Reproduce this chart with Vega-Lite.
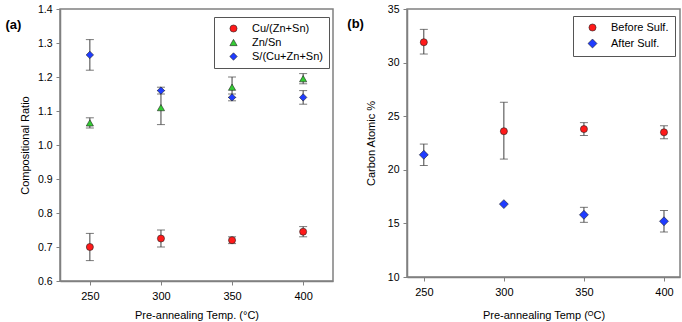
{
  "$schema": "https://vega.github.io/schema/vega-lite/v6.json",
  "padding": {"left": 4, "top": 3, "right": 2, "bottom": 0},
  "background": "white",
  "columns": 2,
  "align": "none",
  "spacing": 12,
  "config": {
    "font": "Liberation Sans",
    "view": {"stroke": "#808080", "strokeWidth": 1.5},
    "axis": {
      "grid": false,
      "domainColor": "#808080",
      "domainWidth": 1.5,
      "tickColor": "#808080",
      "tickSize": 4,
      "labelColor": "black",
      "labelFontSize": 10.5,
      "titleFontSize": 11,
      "titleFontWeight": "normal",
      "titleColor": "black",
      "labelPadding": 4,
      "labelOverlap": false
    },
    "axisX": {"labelFontSize": 11, "labelPadding": 5},
    "legend": {
      "strokeColor": "#555",
      "fillColor": "white",
      "padding": 6,
      "labelFontSize": 11,
      "labelColor": "black",
      "rowPadding": 2,
      "symbolSize": 36,
      "symbolStrokeWidth": 0.6,
      "symbolOffset": 8,
      "labelOffset": 13,
      "title": null
    }
  },
  "datasets": {
    "ratio": [
      {"temp": 250, "series": "Cu/(Zn+Sn)", "val": 0.700, "lo": 0.660, "hi": 0.740},
      {"temp": 300, "series": "Cu/(Zn+Sn)", "val": 0.725, "lo": 0.700, "hi": 0.750},
      {"temp": 350, "series": "Cu/(Zn+Sn)", "val": 0.720, "lo": 0.710, "hi": 0.730},
      {"temp": 400, "series": "Cu/(Zn+Sn)", "val": 0.745, "lo": 0.730, "hi": 0.760},
      {"temp": 250, "series": "Zn/Sn", "val": 1.065, "lo": 1.050, "hi": 1.080},
      {"temp": 300, "series": "Zn/Sn", "val": 1.110, "lo": 1.060, "hi": 1.160},
      {"temp": 350, "series": "Zn/Sn", "val": 1.170, "lo": 1.140, "hi": 1.200},
      {"temp": 400, "series": "Zn/Sn", "val": 1.195, "lo": 1.180, "hi": 1.210},
      {"temp": 250, "series": "S/(Cu+Zn+Sn)", "val": 1.265, "lo": 1.220, "hi": 1.310},
      {"temp": 300, "series": "S/(Cu+Zn+Sn)", "val": 1.160, "lo": 1.150, "hi": 1.170},
      {"temp": 350, "series": "S/(Cu+Zn+Sn)", "val": 1.140, "lo": 1.130, "hi": 1.150},
      {"temp": 400, "series": "S/(Cu+Zn+Sn)", "val": 1.140, "lo": 1.120, "hi": 1.160}
    ],
    "carbon": [
      {"temp": 250, "series": "Before Sulf.", "val": 31.9, "lo": 30.8, "hi": 33.1},
      {"temp": 300, "series": "Before Sulf.", "val": 23.6, "lo": 21.0, "hi": 26.3},
      {"temp": 350, "series": "Before Sulf.", "val": 23.8, "lo": 23.2, "hi": 24.4},
      {"temp": 400, "series": "Before Sulf.", "val": 23.5, "lo": 22.9, "hi": 24.1},
      {"temp": 250, "series": "After Sulf.", "val": 21.4, "lo": 20.4, "hi": 22.4},
      {"temp": 300, "series": "After Sulf.", "val": 16.8, "lo": null, "hi": null},
      {"temp": 350, "series": "After Sulf.", "val": 15.8, "lo": 15.1, "hi": 16.5},
      {"temp": 400, "series": "After Sulf.", "val": 15.2, "lo": 14.2, "hi": 16.2}
    ]
  },
  "concat": [
    {
      "width": 273,
      "height": 272,
      "title": {"text": "(a)", "fontSize": 13, "fontWeight": "bold", "color": "black", "orient": "top", "anchor": "start", "frame": "bounds", "offset": -28, "dx": -14},
      "data": {"name": "ratio"},
      "encoding": {
        "x": {"field": "temp", "type": "quantitative", "scale": {"domain": [229, 421], "nice": false, "zero": false},
              "axis": {"values": [250, 300, 350, 400], "title": "Pre-annealing Temp. (°C)", "titlePadding": 8}}
      },
      "layer": [
        {
          "transform": [{"filter": "datum.lo != null"}],
          "mark": {"type": "rule", "color": "#404040", "strokeWidth": 1},
          "encoding": {
            "y": {"field": "lo", "type": "quantitative", "scale": {"domain": [0.6, 1.4], "nice": false, "zero": false},
                  "axis": {"values": [0.6, 0.7, 0.8, 0.9, 1.0, 1.1, 1.2, 1.3, 1.4], "format": ".1f", "title": "Compositional Ratio", "titlePadding": 7}},
            "y2": {"field": "hi"}
          }
        },
        {
          "transform": [{"filter": "datum.lo != null"}],
          "mark": {"type": "tick", "orient": "horizontal", "color": "#404040", "size": 8, "thickness": 1},
          "encoding": {"y": {"field": "lo", "type": "quantitative",
                  "axis": {"values": [0.6, 0.7, 0.8, 0.9, 1.0, 1.1, 1.2, 1.3, 1.4], "format": ".1f", "title": "Compositional Ratio", "titlePadding": 7}}}
        },
        {
          "transform": [{"filter": "datum.hi != null"}],
          "mark": {"type": "tick", "orient": "horizontal", "color": "#404040", "size": 8, "thickness": 1},
          "encoding": {"y": {"field": "hi", "type": "quantitative",
                  "axis": {"values": [0.6, 0.7, 0.8, 0.9, 1.0, 1.1, 1.2, 1.3, 1.4], "format": ".1f", "title": "Compositional Ratio", "titlePadding": 7}}}
        },
        {
          "mark": {"type": "point", "filled": true, "stroke": "#222", "strokeWidth": 0.6, "opacity": 1},
          "encoding": {
            "y": {"field": "val", "type": "quantitative", "scale": {"domain": [0.6, 1.4], "nice": false, "zero": false},
                  "axis": {"values": [0.6, 0.7, 0.8, 0.9, 1.0, 1.1, 1.2, 1.3, 1.4], "format": ".1f", "title": "Compositional Ratio", "titlePadding": 7}},
            "color": {"field": "series", "type": "nominal",
                      "scale": {"domain": ["Cu/(Zn+Sn)", "Zn/Sn", "S/(Cu+Zn+Sn)"], "range": ["#ff1a1a", "#33cc33", "#1f3cff"]},
                      "legend": {"orient": "none", "legendX": 154, "legendY": 8}},
            "shape": {"field": "series", "type": "nominal",
                      "scale": {"domain": ["Cu/(Zn+Sn)", "Zn/Sn", "S/(Cu+Zn+Sn)"], "range": ["circle", "triangle-up", "diamond"]}},
            "size": {"field": "series", "type": "nominal", "legend": null,
                     "scale": {"domain": ["Cu/(Zn+Sn)", "Zn/Sn", "S/(Cu+Zn+Sn)"], "range": [50, 55, 80]}}
          }
        }
      ]
    },
    {
      "width": 273,
      "height": 268,
      "title": {"text": "(b)", "fontSize": 13, "fontWeight": "bold", "color": "black", "orient": "top", "anchor": "start", "frame": "bounds", "dx": -18, "offset": -27},
      "data": {"name": "carbon"},
      "encoding": {
        "x": {"field": "temp", "type": "quantitative", "scale": {"domain": [239.5, 410], "nice": false, "zero": false},
              "axis": {"values": [250, 300, 350, 400], "title": "Pre-annealing Temp (ᴼC)", "titlePadding": 12}}
      },
      "layer": [
        {
          "transform": [{"filter": "datum.lo != null"}],
          "mark": {"type": "rule", "color": "#404040", "strokeWidth": 1},
          "encoding": {
            "y": {"field": "lo", "type": "quantitative", "scale": {"domain": [10, 35], "nice": false, "zero": false},
                  "axis": {"values": [10, 15, 20, 25, 30, 35], "title": "Carbon Atomic %", "titlePadding": 11}},
            "y2": {"field": "hi"}
          }
        },
        {
          "transform": [{"filter": "datum.lo != null"}],
          "mark": {"type": "tick", "orient": "horizontal", "color": "#404040", "size": 8, "thickness": 1},
          "encoding": {"y": {"field": "lo", "type": "quantitative",
                  "axis": {"values": [10, 15, 20, 25, 30, 35], "title": "Carbon Atomic %", "titlePadding": 11}}}
        },
        {
          "transform": [{"filter": "datum.hi != null"}],
          "mark": {"type": "tick", "orient": "horizontal", "color": "#404040", "size": 8, "thickness": 1},
          "encoding": {"y": {"field": "hi", "type": "quantitative",
                  "axis": {"values": [10, 15, 20, 25, 30, 35], "title": "Carbon Atomic %", "titlePadding": 11}}}
        },
        {
          "mark": {"type": "point", "filled": true, "stroke": "#222", "strokeWidth": 0.6, "opacity": 1},
          "encoding": {
            "y": {"field": "val", "type": "quantitative", "scale": {"domain": [10, 35], "nice": false, "zero": false},
                  "axis": {"values": [10, 15, 20, 25, 30, 35], "title": "Carbon Atomic %", "titlePadding": 11}},
            "color": {"field": "series", "type": "nominal",
                      "scale": {"domain": ["Before Sulf.", "After Sulf."], "range": ["#ff1a1a", "#1f3cff"]},
                      "legend": {"orient": "none", "legendX": 166, "legendY": 7, "rowPadding": 4}},
            "shape": {"field": "series", "type": "nominal",
                      "scale": {"domain": ["Before Sulf.", "After Sulf."], "range": ["circle", "diamond"]}},
            "size": {"field": "series", "type": "nominal", "legend": null,
                     "scale": {"domain": ["Before Sulf.", "After Sulf."], "range": [50, 80]}}
          }
        }
      ]
    }
  ],
  "resolve": {"scale": {"color": "independent", "shape": "independent", "size": "independent"}, "legend": {"color": "independent", "shape": "independent", "size": "independent"}}
}
